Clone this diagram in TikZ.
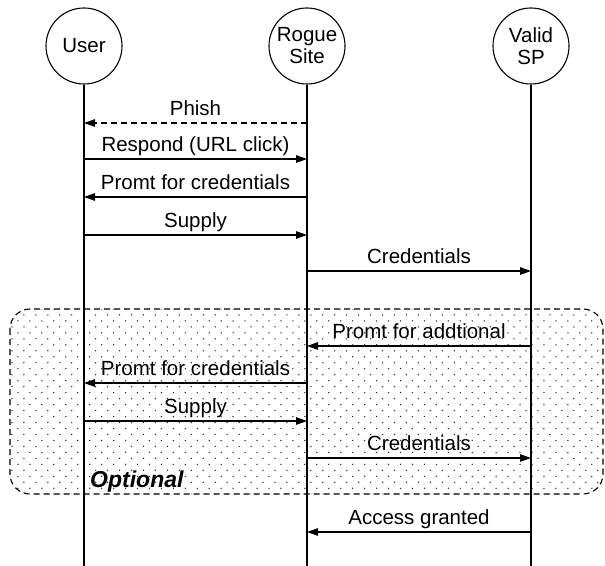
\documentclass[tikz,border=0pt]{standalone}
\usepackage{fontspec}
\setmainfont{Liberation Sans}
\usetikzlibrary{arrows.meta,patterns.meta}

% sparse staggered dot fill for the optional block
\tikzdeclarepattern{
  name=sparsedots,
  type=uncolored,
  bottom left={(-1pt,-1pt)},
  top right={(11pt,11pt)},
  tile size={(12pt,12pt)},
  code={
    \fill (0pt,0pt) circle (0.75pt);
    \fill (6pt,6pt) circle (0.75pt);
  }
}

\tikzset{
  every node/.style={font=\fontsize{20.5bp}{22bp}\selectfont},
  actor/.style={circle, draw, line width=1.1bp, minimum size=76bp, inner sep=0pt, align=center},
  lifeline/.style={line width=1.1bp},
  msg/.style={line width=1.1bp, -{Triangle[length=11bp,width=7.5bp]}},
  reply/.style={msg, dash pattern=on 6bp off 4bp},
  lbl/.style={anchor=base, inner sep=0pt, yshift=7.5bp},
  optbox/.style={draw, line width=1.1bp, dash pattern=on 6bp off 4bp, rounded corners=20bp,
    pattern=sparsedots, pattern color=black!85},
}

\begin{document}
\begin{tikzpicture}[x=1bp,y=-1bp]
\useasboundingbox (0,0) rectangle (605,566);

% optional block behind the lifelines
\path[optbox] (10,309) rectangle (603,494);
\node[font=\fontsize{23bp}{24bp}\selectfont\bfseries\itshape, anchor=base west, inner sep=0pt] (opt) at (90,487) {Optional};

% participants
\node[actor] (user)  at (84,46)  {User};
\node[actor] (rogue) at (307,46) {Rogue\\Site};
\node[actor] (valid) at (531,46) {Valid\\SP};

% lifelines
\coordinate (userEnd)  at (84,566);
\coordinate (rogueEnd) at (307,566);
\coordinate (validEnd) at (531,566);
\draw[lifeline] (user)  -- (userEnd);
\draw[lifeline] (rogue) -- (rogueEnd);
\draw[lifeline] (valid) -- (validEnd);

% messages
\draw[reply] (rogue |- 0,123) -- (user |- 0,123)  node[lbl, midway] {Phish};
\draw[msg]   (user |- 0,159)  -- (rogue |- 0,159) node[lbl, midway] {Respond (URL click)};
\draw[msg]   (rogue |- 0,197) -- (user |- 0,197)  node[lbl, midway] {Promt for credentials};
\draw[msg]   (user |- 0,235)  -- (rogue |- 0,235) node[lbl, midway] {Supply};
\draw[msg]   (rogue |- 0,271) -- (valid |- 0,271) node[lbl, midway] {Credentials};

\draw[msg]   (valid |- 0,346) -- (rogue |- 0,346) node[lbl, midway] {Promt for addtional};
\draw[msg]   (rogue |- 0,383) -- (user |- 0,383)  node[lbl, midway] {Promt for credentials};
\draw[msg]   (user |- 0,421)  -- (rogue |- 0,421) node[lbl, midway] {Supply};
\draw[msg]   (rogue |- 0,458) -- (valid |- 0,458) node[lbl, midway] {Credentials};

\draw[msg]   (valid |- 0,532) -- (rogue |- 0,532) node[lbl, midway] {Access granted};
\end{tikzpicture}
\end{document}
